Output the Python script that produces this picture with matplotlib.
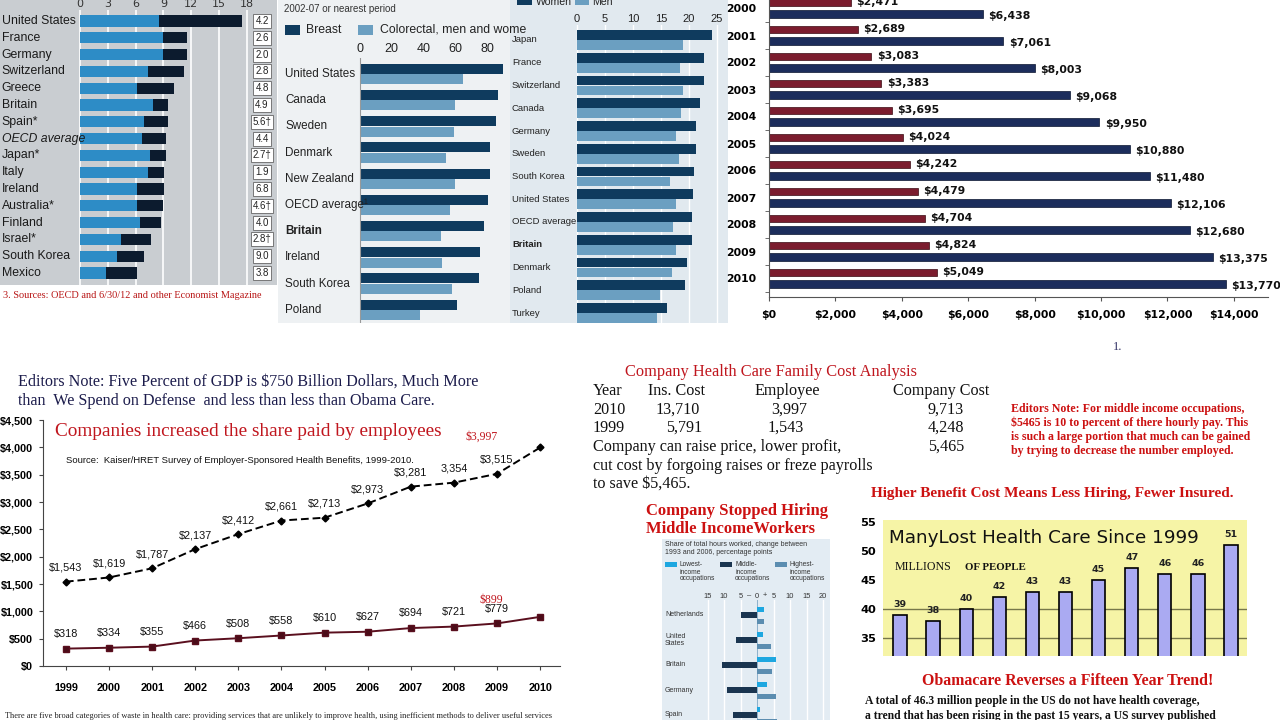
import numpy as np
import matplotlib
matplotlib.use("Agg")
import matplotlib.pyplot as plt
from matplotlib import font_manager
from matplotlib.patches import Rectangle

W, H = 1280, 720

# ---- data: health spending % of GDP (top-left) ----
spend_countries = ["United States", "France", "Germany", "Switzerland", "Greece", "Britain",
                   "Spain*", "OECD average", "Japan*", "Italy", "Ireland", "Australia*",
                   "Finland", "Israel*", "South Korea", "Mexico"]
spend_public = [8.5, 9.0, 8.9, 7.3, 6.1, 7.9, 6.9, 6.7, 7.5, 7.3, 6.2, 6.1, 6.5, 4.4, 4.0, 2.8]
spend_total = [17.5, 11.5, 11.5, 11.2, 10.1, 9.5, 9.5, 9.3, 9.3, 9.1, 9.1, 8.9, 8.7, 7.7, 6.9, 6.1]
spend_boxes = ["4.2", "2.6", "2.0", "2.8", "4.8", "4.9", "5.6\u2020", "4.4", "2.7\u2020", "1.9",
               "6.8", "4.6\u2020", "4.0", "2.8\u2020", "9.0", "3.8"]

# ---- cancer survival (top middle) ----
surv_countries = ["United States", "Canada", "Sweden", "Denmark", "New Zealand", "OECD average\u00b9",
                  "Britain", "Ireland", "South Korea", "Poland"]
surv_breast = [90, 87, 85.5, 82, 82, 80.5, 78, 75.5, 75, 61]
surv_colorectal = [65, 60, 59, 54, 60, 56.6, 51, 51.6, 57.8, 37.8]

# ---- life expectancy at 65 (top middle right) ----
life_countries = ["Japan", "France", "Switzerland", "Canada", "Germany", "Sweden", "South Korea",
                  "United States", "OECD average", "Britain", "Denmark", "Poland", "Turkey"]
life_women = [24.1, 22.7, 22.7, 22.0, 21.2, 21.2, 20.9, 20.7, 20.6, 20.5, 19.6, 19.3, 16.1]
life_men = [19.0, 18.4, 19.0, 18.5, 17.7, 18.2, 16.6, 17.7, 17.2, 17.7, 16.9, 14.8, 14.3]

# ---- premiums (top right) ----
prem_years = list(range(2000, 2011))
prem_single = [2471, 2689, 3083, 3383, 3695, 4024, 4242, 4479, 4704, 4824, 5049]
prem_family = [6438, 7061, 8003, 9068, 9950, 10880, 11480, 12106, 12680, 13375, 13770]

# ---- worker contributions (bottom left) ----
contrib_years = list(range(1999, 2011))
contrib_family = [1543, 1619, 1787, 2137, 2412, 2661, 2713, 2973, 3281, 3354, 3515, 3997]
contrib_single = [318, 334, 355, 466, 508, 558, 610, 627, 694, 721, 779, 899]
family_labels = ["$1,543", "$1,619", "$1,787", "$2,137", "$2,412", "$2,661", "$2,713", "$2,973",
                 "$3,281", "3,354", "$3,515", ""]
single_labels = ["$318", "$334", "$355", "$466", "$508", "$558", "$610", "$627", "$694", "$721",
                 "$779", ""]

# ---- hours worked change (bottom middle) ----
hours_countries = ["Netherlands", "United\nStates", "Britain", "Germany", "Spain"]
hours_low = [2.1, 1.8, 5.8, 3.0, 0.8]
hours_mid = [-4.8, -6.4, -10.6, -9.1, -7.3]
hours_high = [2.1, 4.2, 4.5, 5.8, 6.0]

# ---- uninsured (bottom right) ----
unins_values = [39, 38, 40, 42, 43, 43, 45, 47, 46, 46, 51]


def pick(*names):
    for n in names:
        try:
            font_manager.findfont(n, fallback_to_default=False)
            return n
        except Exception:
            pass
    return "DejaVu Sans"


NARROW = pick("Liberation Sans Narrow", "Liberation Sans", "DejaVu Sans")
SERIF = pick("Liberation Serif", "DejaVu Serif")

fig = plt.figure(figsize=(12.8, 7.2), dpi=100)
fig.patch.set_facecolor("white")


def px_axes(x0, y0, x1, y1):
    ax = fig.add_axes([x0 / W, 1 - y1 / H, (x1 - x0) / W, (y1 - y0) / H])
    ax.set_facecolor("none")
    for s in ax.spines.values():
        s.set_visible(False)
    return ax


def ftext(x, y, s, **kw):
    kw.setdefault("va", "center")
    fig.text(x / W, 1 - y / H, s, **kw)


def frect(x0, y0, x1, y1, **kw):
    kw.setdefault("zorder", -1)
    fig.add_artist(Rectangle((x0 / W, 1 - y1 / H), (x1 - x0) / W, (y1 - y0) / H,
                             transform=fig.transFigure, **kw))


# ================= panel 1: spending =================
frect(0, 0, 277, 285, fc="#c9cdd1", ec="none")
ax1 = px_axes(0, 10, 277, 285)
sc1, z1 = 9.27, 80
ax1.set_xlim(-z1 / sc1, (277 - z1) / sc1)
ax1.set_ylim((285 - 21) / 16.8, (10 - 21) / 16.8)
for t in range(0, 19, 3):
    ax1.axvline(t, color="white", lw=1.2, zorder=0)
y1 = np.arange(len(spend_countries))
ax1.barh(y1, spend_public, height=0.66, color="#2d8cc6", zorder=2)
ax1.barh(y1, np.array(spend_total) - np.array(spend_public), left=spend_public,
         height=0.66, color="#0c1b2e", zorder=2)
ax1.xaxis.tick_top()
ax1.set_xticks(range(0, 19, 3))
ax1.tick_params(axis="x", length=0, pad=1, labelsize=8, colors="#333")
ax1.set_yticks([])
for i, name in enumerate(spend_countries):
    ax1.text(-z1 / sc1 + 0.2, i, name, ha="left", va="center", fontsize=8.8, family=NARROW,
             color="#1a1a1a", style="italic" if name.startswith("OECD") else "normal")
    ax1.text((262 - z1) / sc1, i, spend_boxes[i], ha="center", va="center", fontsize=7,
             family=NARROW, color="#222",
             bbox=dict(boxstyle="square,pad=0.2", fc="white", ec="#666", lw=0.6))
ftext(3, 296, "3. Sources: OECD and 6/30/12 and other Economist Magazine", fontsize=7.4,
      family=SERIF, color="#b81515")

# ================= panel 2: cancer survival =================
frect(278, 0, 510, 323, fc="#eef1f3", ec="none")
frect(510, 0, 728, 323, fc="#e1e9ef", ec="none")
ftext(284, 9, "2002-07 or nearest period", fontsize=7, family=NARROW, color="#333")
frect(285, 25, 300, 35, fc="#0f3b5e", ec="none", zorder=2)
ftext(306, 30, "Breast", fontsize=8.8, family=NARROW, color="#222")
frect(358, 25, 373, 35, fc="#6b9fc1", ec="none", zorder=2)
ftext(380, 30, "Colorectal, men and wome", fontsize=8.8, family=NARROW, color="#222")

ax2 = px_axes(278, 58, 510, 323)
sc2, z2 = 1.59, 360
ax2.set_xlim(-(z2 - 278) / sc2, (510 - z2) / sc2)
ax2.set_ylim((323 - 74) / 26.2, (58 - 74) / 26.2)
y2 = np.arange(len(surv_countries))
ax2.barh(y2 - 0.2, surv_breast, height=0.38, color="#0f3b5e")
ax2.barh(y2 + 0.2, surv_colorectal, height=0.38, color="#6b9fc1")
ax2.axvline(0, color="#999", lw=0.8)
ax2.xaxis.tick_top()
ax2.set_xticks(range(0, 81, 20))
ax2.tick_params(axis="x", length=0, pad=2, labelsize=9, colors="#222")
for lab in ax2.get_xticklabels():
    lab.set_family(NARROW)
ax2.set_yticks([])
for i, name in enumerate(surv_countries):
    ax2.text(-(z2 - 285) / sc2, i, name, ha="left", va="center", fontsize=8.4, family=NARROW,
             color="#222", weight="bold" if name == "Britain" else "normal")

# right sub-chart
frect(517, -4, 532, 5, fc="#0f3b5e", ec="none", zorder=2)
ftext(536, 2, "Women", fontsize=7.6, family=NARROW, color="#222")
frect(575, -4, 589, 5, fc="#6b9fc1", ec="none", zorder=2)
ftext(592, 2, "Men", fontsize=7.6, family=NARROW, color="#222")
ax3 = px_axes(510, 25, 728, 323)
sc3, z3 = 5.6, 577
ax3.set_xlim(-(z3 - 510) / sc3, (728 - z3) / sc3)
ax3.set_ylim((323 - 40) / 22.75, (25 - 40) / 22.75)
for t in range(0, 26, 5):
    ax3.axvline(t, color="white", lw=1, zorder=0)
y3 = np.arange(len(life_countries))
ax3.barh(y3 - 0.22, life_women, height=0.42, color="#0f3b5e", zorder=2)
ax3.barh(y3 + 0.22, life_men, height=0.42, color="#6b9fc1", zorder=2)
ax3.xaxis.tick_top()
ax3.set_xticks(range(0, 26, 5))
ax3.tick_params(axis="x", length=0, pad=1, labelsize=8, colors="#222")
for lab in ax3.get_xticklabels():
    lab.set_family(NARROW)
ax3.set_yticks([])
for i, name in enumerate(life_countries):
    ax3.text(-(z3 - 512) / sc3, i, name, ha="left", va="center", fontsize=6.8, family=NARROW,
             color="#222", weight="bold" if name == "Britain" else "normal")

# ================= panel 3: premiums =================
ax4 = px_axes(769, 0, 1268, 297)
ax4.set_xlim(0, (1268 - 769) / 0.0332)
ax4.set_ylim((297 - 8.5) / 27, -8.5 / 27)
y4 = np.arange(len(prem_years))
ax4.barh(y4 - 0.21, prem_single, height=0.27, color="#7b1c2e", edgecolor="#3a0a12", lw=0.5)
ax4.barh(y4 + 0.21, prem_family, height=0.3, color="#1c2d5c", edgecolor="#0a1430", lw=0.5)
for i in range(len(prem_years)):
    ax4.text(prem_single[i] + 160, i - 0.23, f"${prem_single[i]:,}", ha="left", va="center",
             fontsize=7.8, weight="bold", color="#111")
    ax4.text(prem_family[i] + 160, i + 0.26, f"${prem_family[i]:,}", ha="left", va="center",
             fontsize=7.8, weight="bold", color="#111")
ax4.spines["left"].set_visible(True)
ax4.spines["bottom"].set_visible(True)
ax4.spines["left"].set_color("#555")
ax4.spines["bottom"].set_color("#555")
ax4.set_yticks(y4)
ax4.set_yticklabels([str(y) for y in prem_years])
ax4.set_yticks(y4 + 0.5, minor=True)
ax4.tick_params(axis="y", which="major", length=0, pad=9, labelsize=7.8)
ax4.tick_params(axis="y", which="minor", length=3, color="#555")
for lab in ax4.get_yticklabels():
    lab.set_weight("bold")
ax4.set_xticks(range(0, 14001, 2000))
ax4.set_xticklabels(["$0"] + [f"${v:,}" for v in range(2000, 14001, 2000)])
ax4.tick_params(axis="x", length=3, pad=6, labelsize=7.8, color="#555")
for lab in ax4.get_xticklabels():
    lab.set_weight("bold")
ftext(1113, 347, "1.", fontsize=9, family=SERIF, color="#333366")

# ================= panel 4: worker contributions =================
ftext(18, 382, "Editors Note: Five Percent of GDP is $750 Billion Dollars, Much More",
      fontsize=11.6, family=SERIF, color="#1b1b4b")
ftext(18, 401, "than  We Spend on Defense  and less than less than Obama Care.",
      fontsize=11.6, family=SERIF, color="#1b1b4b")
ax5 = px_axes(43, 420, 560, 666)
ax5.set_xlim(1998.47, 2010.46)
ax5.set_ylim(0, 4500)
ax5.plot(contrib_years, contrib_family, color="black", ls=(0, (4, 2)), lw=1.4,
         marker="D", ms=3.5)
ax5.plot(contrib_years, contrib_single, color="#5a0f1e", lw=1.4, marker="s", ms=3.8,
         markerfacecolor="#4a0c18")
for yr, v, lab in zip(contrib_years, contrib_family, family_labels):
    ax5.annotate(lab, (yr, v), xytext=(0, 10), textcoords="offset points", ha="center",
                 va="center", fontsize=7.8, family=NARROW, color="#111")
for yr, v, lab in zip(contrib_years, contrib_single, single_labels):
    ax5.annotate(lab, (yr, v), xytext=(0, 10.5), textcoords="offset points", ha="center",
                 va="center", fontsize=7.8, family=NARROW, color="#111")
ax5.annotate("$3,997", (contrib_years[-1], contrib_family[-1]), xytext=(-42, 8),
             textcoords="offset points", ha="center", va="center", fontsize=8.5,
             family=SERIF, color="#c0161e")
ax5.annotate("$899", (contrib_years[-1], contrib_single[-1]), xytext=(-35, 12),
             textcoords="offset points", ha="center", va="center", fontsize=8.5,
             family=SERIF, color="#c0161e")
ax5.spines["left"].set_visible(True)
ax5.spines["bottom"].set_visible(True)
ax5.spines["left"].set_color("#444")
ax5.spines["bottom"].set_color("#444")
ax5.set_yticks(range(0, 4501, 500))
ax5.set_yticklabels([f"${v:,}" for v in range(0, 4501, 500)])
ax5.set_xticks(contrib_years)
ax5.tick_params(axis="y", length=3, pad=4, labelsize=7.8, color="#444")
ax5.tick_params(axis="x", length=3, pad=9, labelsize=7.8, color="#444")
for lab in ax5.get_yticklabels() + ax5.get_xticklabels():
    lab.set_family(NARROW)
    lab.set_weight("bold")
ftext(55, 432, "Companies increased the share paid by employees", fontsize=13.9,
      family=SERIF, color="#c0161e")
ftext(66, 461, "Source:  Kaiser/HRET Survey of Employer-Sponsored Health Benefits, 1999-2010.",
      fontsize=6.8, family=NARROW, color="#111",
      bbox=dict(boxstyle="square,pad=0.1", fc="white", ec="none"))
ftext(5, 716, "There are five broad categories of waste in health care: providing services that "
      "are unlikely to improve health, using inefficient methods to deliver useful services",
      fontsize=6, family=SERIF, color="#222")

# ================= middle table text =================
ftext(625, 372, "Company Health Care Family Cost Analysis", fontsize=11.8, family=SERIF,
      color="#c0161e")
rows = [
    (391, [(593, "Year"), (648, "Ins. Cost"), (754, "Employee"), (893, "Company Cost")]),
    (410, [(593, "2010"), (656, "13,710"), (771, "3,997"), (928, "9,713")]),
    (428, [(593, "1999"), (666, "5,791"), (768, "1,543"), (928, "4,248")]),
    (447, [(593, "Company can raise price, lower profit,"), (928, "5,465")]),
    (466, [(593, "cut cost by forgoing raises or freze payrolls")]),
    (484, [(593, "to save $5,465.")]),
]
for yy, cells in rows:
    for xx, s in cells:
        ftext(xx, yy, s, fontsize=11.6, family=SERIF, color="#111")

for k, line in enumerate(["Editors Note: For middle income occupations,",
                          "$5465 is 10 to percent of there hourly pay. This",
                          "is such a large portion that much can be gained",
                          "by trying to decrease the number employed."]):
    ftext(1011, 409 + 14 * k, line, fontsize=8.6, family=SERIF, weight="bold", color="#cc1111")

ftext(871, 494, "Higher Benefit Cost Means Less Hiring, Fewer Insured.", fontsize=11,
      family=SERIF, weight="bold", color="#cc1111")

# ================= bottom middle: hours worked =================
ftext(646, 511, "Company Stopped Hiring", fontsize=12, family=SERIF, weight="bold",
      color="#cc1111")
ftext(646, 529, "Middle IncomeWorkers", fontsize=12, family=SERIF, weight="bold",
      color="#cc1111")
frect(662, 539, 830, 720, fc="#e3ecf3", ec="none")
ftext(665, 544, "Share of total hours worked, change between", fontsize=5, family=NARROW,
      color="#333")
ftext(665, 552, "1993 and 2006, percentage points", fontsize=5, family=NARROW, color="#333")
leg = [(665, "#1ea7e0", "Lowest-\nincome\noccupations"),
       (720, "#1a3550", "Middle-\nincome\noccupations"),
       (775, "#5b8db0", "Highest-\nincome\noccupations")]
for lx, col, lab in leg:
    frect(lx, 562, lx + 12, 567, fc=col, ec="none", zorder=2)
    ftext(lx + 15, 572, lab, fontsize=4.8, family=NARROW, color="#333", linespacing=1.0)

ax6 = px_axes(662, 600, 830, 720)
sc6, z6 = 3.3, 757
ax6.set_xlim(-(z6 - 662) / sc6, (830 - z6) / sc6)
ax6.set_ylim((720 - 615) / 25, (600 - 615) / 25)
for t in range(-15, 21, 5):
    ax6.axvline(t, color="white", lw=1, zorder=0)
ax6.axvline(0, color="#8fb2cc", lw=0.8, zorder=1)
y6 = np.arange(len(hours_countries))
ax6.barh(y6 - 0.24, hours_low, height=0.2, color="#1ea7e0", zorder=2)
ax6.barh(y6, hours_mid, height=0.24, color="#1a3550", zorder=2)
ax6.barh(y6 + 0.24, hours_high, height=0.2, color="#5b8db0", zorder=2)
ax6.set_xticks([])
ax6.set_yticks([])
for t, s in zip([-15, -10, -5, -2.5, 0, 2.5, 5, 10, 15, 20],
                ["15", "10", "5", "\u2013", "0", "+", "5", "10", "15", "20"]):
    ax6.text(t, (596 - 615) / 25, s, ha="center", va="center", fontsize=5.4, family=NARROW,
             color="#333", clip_on=False)
for i, name in enumerate(hours_countries):
    ax6.text(-(z6 - 665) / sc6, i, name, ha="left", va="center", fontsize=5, family=NARROW,
             color="#333", linespacing=1.0)

# ================= bottom right: uninsured =================
ax7 = px_axes(883, 520, 1247, 656)
ax7.set_facecolor("#f6f4a6")
ax7.set_ylim(31.9, 55.34)
ax7.set_xlim(-0.51, 10.48)
x7 = np.arange(len(unins_values))
for lv in (35, 40):
    ax7.axhline(lv, color="#77774a", lw=1, zorder=1)
ax7.bar(x7, unins_values, width=0.4, color="#aaaaf2", edgecolor="black", lw=1.2, zorder=2)
for i, v in enumerate(unins_values):
    ax7.text(i, v + 1.8, str(v), ha="center", va="center", fontsize=6.8, weight="bold",
             color="#222")
ax7.set_xticks([])
ax7.set_yticks(range(35, 56, 5))
ax7.tick_params(axis="y", length=0, pad=5, labelsize=8.2)
for lab in ax7.get_yticklabels():
    lab.set_weight("bold")
ftext(889, 538, "ManyLost Health Care Since 1999", fontsize=13.2, color="#111")
ftext(895, 567, "MILLIONS", fontsize=8.6, family=SERIF, color="#111")
ftext(965, 568, "OF PEOPLE", fontsize=7.8, family=SERIF, weight="bold", color="#111")

ftext(1068, 681, "Obamacare Reverses a Fifteen Year Trend!", fontsize=11.4, family=SERIF,
      weight="bold", color="#cc1111", ha="center")
ftext(865, 701, "A total of 46.3 million people in the US do not have health coverage,",
      fontsize=8.4, family=SERIF, weight="bold", color="#111")
ftext(865, 716, "a trend that has been rising in the past 15 years, a US survey published",
      fontsize=8.4, family=SERIF, weight="bold", color="#111")

fig.savefig("out.png", dpi=100)
